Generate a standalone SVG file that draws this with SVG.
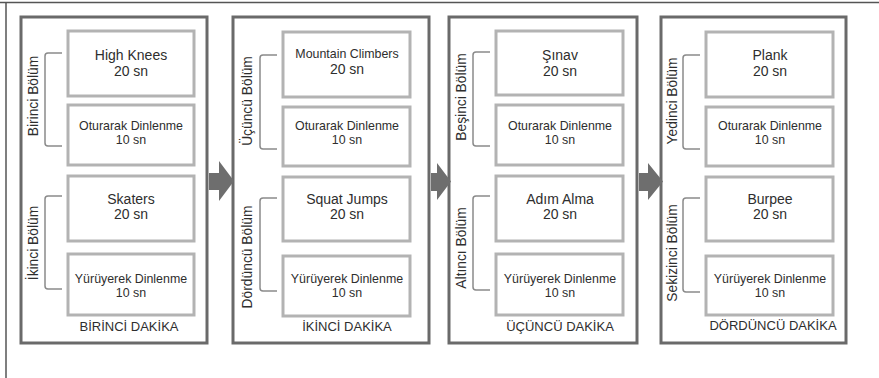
<svg xmlns="http://www.w3.org/2000/svg" width="879" height="378" viewBox="0 0 879 378">
<style>
text{font-family:"Liberation Sans",Arial,sans-serif;fill:#2e2e2e;text-anchor:middle}
.panel{fill:#fff;stroke:#6a6a6a;stroke-width:3}
.box{fill:#fff;stroke:#b3b3b3;stroke-width:3}
.br{fill:none;stroke:#8a8a8a;stroke-width:1.5}
.big{font-size:14px}
.sm{font-size:12.4px}
.t{font-size:13px}
.rot{font-size:13.8px}
.arr{fill:#6e6e6e}
</style>
<rect width="879" height="378" fill="#fff"/>
<path d="M0,2.5 H879 M6,2.5 V378" fill="none" stroke="#555" stroke-width="1.5"/>

<g id="panel1">
<rect class="panel" x="21" y="17" width="186" height="326"/>
<rect class="box" x="68" y="31" width="126" height="65"/>
<rect class="box" x="68" y="105" width="126" height="60"/>
<rect class="box" x="68" y="176" width="126" height="65"/>
<rect class="box" x="68" y="254" width="126" height="61"/>
<path class="br" d="M62,53 H48 Q45,53 45,56 V143 Q45,146 48,146 H62"/>
<path class="br" d="M62,196 H48 Q45,196 45,199 V286 Q45,289 48,289 H62"/>
<text class="rot" transform="translate(38,96) rotate(-90)">Birinci Bölüm</text>
<text class="rot" transform="translate(38,243) rotate(-90)">İkinci Bölüm</text>
<text class="big" x="131" y="60">High Knees</text>
<text class="big" x="131" y="76">20 sn</text>
<text class="sm" x="131" y="129.5">Oturarak Dinlenme</text>
<text class="sm" x="131" y="143.5">10 sn</text>
<text class="big" x="131" y="204">Skaters</text>
<text class="big" x="131" y="219">20 sn</text>
<text class="sm" x="131" y="282.5">Yürüyerek Dinlenme</text>
<text class="sm" x="131" y="296.5">10 sn</text>
<text class="t" x="129" y="331">BİRİNCİ DAKİKA</text>
</g>

<g id="panel2">
<rect class="panel" x="233" y="17" width="196" height="326"/>
<rect class="box" x="283" y="32" width="127" height="65"/>
<rect class="box" x="283" y="107" width="127" height="59"/>
<rect class="box" x="283" y="177" width="127" height="64"/>
<rect class="box" x="283" y="256" width="127" height="60"/>
<path class="br" d="M277,55 H263 Q260,55 260,58 V146 Q260,149 263,149 H277"/>
<path class="br" d="M277,198 H263 Q260,198 260,201 V288 Q260,291 263,291 H277"/>
<text class="rot" transform="translate(252,101) rotate(-90)">Üçüncü Bölüm</text>
<text class="rot" transform="translate(252,257) rotate(-90)">Dördüncü Bölüm</text>
<text class="sm" x="347" y="58">Mountain Climbers</text>
<text class="big" x="347" y="74">20 sn</text>
<text class="sm" x="347" y="129.5">Oturarak Dinlenme</text>
<text class="sm" x="347" y="143.5">10 sn</text>
<text class="big" x="347" y="204">Squat Jumps</text>
<text class="big" x="347" y="219">20 sn</text>
<text class="sm" x="347" y="282.5">Yürüyerek Dinlenme</text>
<text class="sm" x="347" y="296.5">10 sn</text>
<text class="t" x="347" y="331">İKİNCİ DAKİKA</text>
</g>

<g id="panel3">
<rect class="panel" x="449" y="17" width="188" height="326"/>
<rect class="box" x="496" y="31" width="127" height="64"/>
<rect class="box" x="496" y="105" width="127" height="60"/>
<rect class="box" x="496" y="176" width="127" height="65"/>
<rect class="box" x="496" y="254" width="127" height="61"/>
<path class="br" d="M490,52 H476 Q473,52 473,55 V143 Q473,146 476,146 H490"/>
<path class="br" d="M490,196 H476 Q473,196 473,199 V287 Q473,290 476,290 H490"/>
<text class="rot" transform="translate(466,97) rotate(-90)">Beşinci Bölüm</text>
<text class="rot" transform="translate(466,248) rotate(-90)">Altıncı Bölüm</text>
<text class="big" x="560" y="60">Şınav</text>
<text class="big" x="560" y="76">20 sn</text>
<text class="sm" x="560" y="129.5">Oturarak Dinlenme</text>
<text class="sm" x="560" y="143.5">10 sn</text>
<text class="big" x="560" y="204">Adım Alma</text>
<text class="big" x="560" y="219">20 sn</text>
<text class="sm" x="560" y="282.5">Yürüyerek Dinlenme</text>
<text class="sm" x="560" y="296.5">10 sn</text>
<text class="t" x="560" y="331">ÜÇÜNCÜ DAKİKA</text>
</g>

<g id="panel4">
<rect class="panel" x="661" y="17" width="185" height="326"/>
<rect class="box" x="706" y="32" width="127" height="65"/>
<rect class="box" x="706" y="107" width="127" height="59"/>
<rect class="box" x="706" y="177" width="127" height="64"/>
<rect class="box" x="706" y="256" width="127" height="59"/>
<path class="br" d="M700,55 H686 Q683,55 683,58 V146 Q683,149 686,149 H700"/>
<path class="br" d="M700,198 H686 Q683,198 683,201 V289 Q683,292 686,292 H700"/>
<text class="rot" transform="translate(677,101) rotate(-90)">Yedinci Bölüm</text>
<text class="rot" transform="translate(677,253) rotate(-90)">Sekizinci Bölüm</text>
<text class="big" x="770" y="60">Plank</text>
<text class="big" x="770" y="76">20 sn</text>
<text class="sm" x="770" y="129.5">Oturarak Dinlenme</text>
<text class="sm" x="770" y="143.5">10 sn</text>
<text class="big" x="770" y="204">Burpee</text>
<text class="big" x="770" y="219">20 sn</text>
<text class="sm" x="770" y="282.5">Yürüyerek Dinlenme</text>
<text class="sm" x="770" y="296.5">10 sn</text>
<text class="t" x="773" y="330">DÖRDÜNCÜ DAKİKA</text>
</g>

<g id="connectors">
<polygon class="arr" points="209,173 219,173 219,161 234,181 219,201 219,190 209,190"/>
<polygon class="arr" points="431,173 437,173 437,163 451,181.5 437,200 437,191 431,191"/>
<polygon class="arr" points="639,173 648,173 648,163 663,181.5 648,200 648,191 639,191"/>
</g>
</svg>
